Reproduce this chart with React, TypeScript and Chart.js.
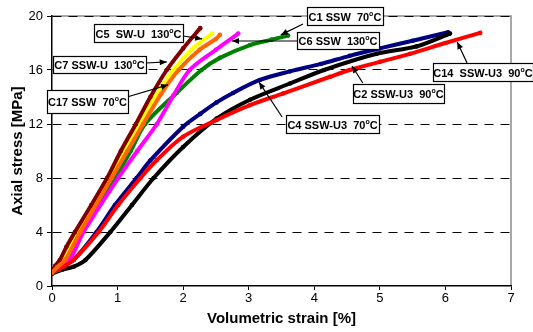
import React, { useEffect, useRef } from 'react';
import { Chart, registerables } from 'chart.js';

Chart.register(...registerables);

// ---- Data (volumetric strain [%] vs axial stress [MPa]) ----
const xTickValues = [0, 1, 2, 3, 4, 5, 6, 7];
const yTickValues = [0, 4, 8, 12, 16, 20];

// C7 SSW-U 130°C (maroon)
const c7Strain = [0, 0.05, 0.12, 0.22, 0.35, 0.6, 0.84, 1.05, 1.28, 1.5, 1.75, 2.0, 2.26];
const c7Stress = [1.0, 1.5, 1.93, 2.9, 4.0, 6.0, 8.0, 10.0, 12.0, 14.0, 16.0, 17.6, 19.1];

// C5 SW-U 130°C (yellow)
const c5Strain = [0, 0.08, 0.18, 0.4, 0.88, 1.1, 1.32, 1.6, 1.85, 2.15, 2.44];
const c5Stress = [1.0, 1.5, 2.0, 4.0, 8.0, 10.0, 12.0, 14.2, 16.0, 17.6, 18.7];

// C17 SSW 70°C (orange)
const c17Strain = [0, 0.08, 0.2, 0.43, 0.91, 1.15, 1.39, 1.66, 1.93, 2.25, 2.5, 2.56];
const c17Stress = [1.0, 1.4, 1.93, 4.0, 8.0, 10.0, 12.0, 14.2, 16.0, 17.5, 18.3, 18.6];

// C6 SSW 130°C (magenta)
const c6Strain = [0, 0.1, 0.27, 0.48, 1.01, 1.3, 1.6, 1.85, 2.1, 2.5, 2.84];
const c6Stress = [1.0, 1.3, 1.93, 4.0, 8.0, 10.0, 12.0, 14.1, 16.0, 17.5, 18.7];

// C1 SSW 70°C (green)
const c1Strain = [0, 0.1, 0.25, 0.45, 0.96, 1.2, 1.42, 1.9, 2.28, 2.56, 3.02, 3.35, 3.6];
const c1Stress = [1.0, 1.2, 1.9, 4.0, 8.0, 10.0, 12.0, 14.3, 16.0, 16.9, 17.85, 18.25, 18.55];

// C4 SSW-U3 70°C (navy)
const c4Strain = [0, 0.15, 0.33, 0.68, 0.96, 1.29, 1.5, 2.0, 2.26, 2.51, 2.76, 3.17, 3.63, 4.1, 4.54, 5.0, 5.5, 6.04];
const c4Stress = [1.0, 1.4, 1.93, 4.0, 6.0, 8.0, 9.3, 11.8, 12.75, 13.6, 14.3, 15.26, 15.9, 16.45, 17.05, 17.6, 18.17, 18.8];

// C2 SSW-U3 90°C (black)
const c2Strain = [0, 0.15, 0.33, 0.51, 0.89, 1.22, 1.55, 2.0, 2.51, 3.02, 3.63, 4.15, 4.95, 5.56, 6.07];
const c2Stress = [0.9, 1.2, 1.43, 1.93, 4.0, 6.0, 8.0, 10.3, 12.4, 13.8, 15.0, 16.0, 17.2, 17.75, 18.7];

// C14 SSW-U3 90°C (red)
const c14Strain = [0, 0.17, 0.33, 0.71, 1.01, 1.35, 1.6, 2.0, 2.51, 3.02, 3.53, 4.24, 4.54, 5.0, 5.46, 6.0, 6.53];
const c14Stress = [1.0, 1.43, 1.93, 4.0, 6.0, 8.0, 9.33, 11.06, 12.3, 13.4, 14.27, 15.5, 16.0, 16.6, 17.2, 18.0, 18.75];

// ---- Callout labels (anchored in data coordinates) ----
type Note = { text: string; cx: number; cy: number; w: number; h: number; tail: [number, number]; head: [number, number] };
const notes: Note[] = [
  { text: 'C5  SW-U  130', cx: 1.32, cy: 18.74, w: 89, h: 18, tail: [2.0, 18.52], head: [2.29, 18.3] },
  { text: 'C7 SSW-U  130', cx: 0.724, cy: 16.44, w: 93, h: 17, tail: [1.434, 16.52], head: [1.75, 16.6] },
  { text: 'C17 SSW  70', cx: 0.541, cy: 13.67, w: 81, h: 23, tail: [1.144, 14.0], head: [1.77, 14.9] },
  { text: 'C1 SSW  70', cx: 4.468, cy: 20.0, w: 76, h: 18, tail: [3.828, 19.41], head: [3.49, 18.6] },
  { text: 'C6 SSW  130', cx: 4.362, cy: 18.19, w: 82, h: 17, tail: [3.736, 18.15], head: [2.745, 18.15] },
  { text: 'C14  SSW-U3  90', cx: 6.573, cy: 15.85, w: 100, h: 18, tail: [6.33, 16.52], head: [6.18, 18.07] },
  { text: 'C2 SSW-U3  90', cx: 5.284, cy: 14.26, w: 91, h: 19, tail: [4.74, 15.04], head: [4.575, 16.3] },
  { text: 'C4 SSW-U3  70', cx: 4.278, cy: 12.0, w: 93, h: 18, tail: [3.51, 12.52], head: [3.157, 15.1] },
];

const FONT = '"Liberation Sans", Arial, Helvetica, sans-serif';

const toPts = (xs: number[], ys: number[]) => xs.map((x, i) => ({ x, y: ys[i] }));

function drawArrow(ctx: CanvasRenderingContext2D, x1: number, y1: number, x2: number, y2: number) {
  ctx.beginPath();
  ctx.moveTo(x1, y1);
  ctx.lineTo(x2, y2);
  ctx.stroke();
  const a = Math.atan2(y2 - y1, x2 - x1);
  const L = 7, W = 3;
  ctx.beginPath();
  ctx.moveTo(x2, y2);
  ctx.lineTo(x2 - L * Math.cos(a) + W * Math.sin(a), y2 - L * Math.sin(a) - W * Math.cos(a));
  ctx.lineTo(x2 - L * Math.cos(a) - W * Math.sin(a), y2 - L * Math.sin(a) + W * Math.cos(a));
  ctx.closePath();
  ctx.fill();
}

const decorPlugin = {
  id: 'decor',
  beforeDraw(chart: any) {
    const { ctx, chartArea: a } = chart;
    ctx.save();
    ctx.strokeStyle = '#8c8c8c';
    ctx.lineWidth = 1.5;
    ctx.beginPath();
    ctx.moveTo(a.left, a.top);
    ctx.lineTo(a.right, a.top);
    ctx.lineTo(a.right, a.bottom);
    ctx.stroke();
    ctx.restore();
  },
  afterDraw(chart: any) {
    const { ctx } = chart;
    const xs = chart.scales.x;
    const ys = chart.scales.y;
    ctx.save();
    ctx.strokeStyle = '#000';
    ctx.fillStyle = '#000';
    ctx.lineWidth = 1.2;
    for (const n of notes) {
      drawArrow(ctx, xs.getPixelForValue(n.tail[0]), ys.getPixelForValue(n.tail[1]),
        xs.getPixelForValue(n.head[0]), ys.getPixelForValue(n.head[1]));
    }
    for (const n of notes) {
      const cx = xs.getPixelForValue(n.cx);
      const cy = ys.getPixelForValue(n.cy);
      const left = Math.round(cx - n.w / 2) + 0.5;
      const top = Math.round(cy - n.h / 2) + 0.5;
      ctx.fillStyle = '#fff';
      ctx.fillRect(left, top, n.w, n.h);
      ctx.strokeStyle = '#000';
      ctx.lineWidth = 1.2;
      ctx.strokeRect(left, top, n.w, n.h);
      ctx.fillStyle = '#000';
      const main = 'bold 11px ' + FONT;
      const sup = 'bold 7px ' + FONT;
      ctx.font = main;
      const w1 = ctx.measureText(n.text).width;
      const wC = ctx.measureText('C').width;
      ctx.font = sup;
      const wo = ctx.measureText('o').width;
      const total = w1 + wo + wC;
      let x = cx - total / 2;
      const base = cy + 5;
      ctx.textBaseline = 'alphabetic';
      ctx.textAlign = 'left';
      ctx.font = main;
      ctx.fillText(n.text, x, base);
      x += w1;
      ctx.font = sup;
      ctx.fillText('o', x, base - 5);
      x += wo;
      ctx.font = main;
      ctx.fillText('C', x, base);
    }
    ctx.restore();
  },
};

const series = [
  { label: 'C17 SSW 70°C', xs: c17Strain, ys: c17Stress, color: '#FF6600' },
  { label: 'C14 SSW-U3 90°C', xs: c14Strain, ys: c14Stress, color: '#FF0000' },
  { label: 'C7 SSW-U 130°C', xs: c7Strain, ys: c7Stress, color: '#800000' },
  { label: 'C5 SW-U 130°C', xs: c5Strain, ys: c5Stress, color: '#FFFF00' },
  { label: 'C6 SSW 130°C', xs: c6Strain, ys: c6Stress, color: '#FF00FF' },
  { label: 'C1 SSW 70°C', xs: c1Strain, ys: c1Stress, color: '#008000' },
  { label: 'C2 SSW-U3 90°C', xs: c2Strain, ys: c2Stress, color: '#000000' },
  { label: 'C4 SSW-U3 70°C', xs: c4Strain, ys: c4Stress, color: '#000080' },
];

export default function App() {
  const ref = useRef<HTMLCanvasElement | null>(null);
  useEffect(() => {
    if (!ref.current) return;
    Chart.defaults.font.family = FONT;
    const chart = new Chart(ref.current, {
      type: 'scatter',
      data: {
        datasets: series.map((s) => ({
          label: s.label,
          data: toPts(s.xs, s.ys),
          showLine: true,
          borderColor: s.color,
          backgroundColor: s.color,
          borderWidth: 4,
          pointRadius: 2.3,
          pointBorderWidth: 0,
          tension: 0.3,
          borderCapStyle: 'round' as const,
          borderJoinStyle: 'round' as const,
        })),
      },
      options: {
        responsive: false,
        animation: false,
        layout: { padding: { left: 0, right: 22, top: 16, bottom: 0 } },
        plugins: { legend: { display: false }, tooltip: { enabled: false } },
        scales: {
          x: {
            type: 'linear',
            min: 0,
            max: 7,
            afterBuildTicks: (s: any) => { s.ticks = xTickValues.map((v) => ({ value: v })); },
            afterFit: (s: any) => { s.height = 46; },
            ticks: { font: { size: 13 }, color: '#000', padding: 1 },
            grid: { drawOnChartArea: false, drawTicks: true, tickLength: 4, tickColor: '#000' },
            border: { display: true, color: '#000', width: 1.5 },
            title: {
              display: true,
              text: 'Volumetric strain [%]',
              font: { size: 15, weight: 'bold' },
              color: '#000',
              padding: { top: 0, bottom: 4.5 },
            },
          },
          y: {
            type: 'linear',
            min: 0,
            max: 20,
            afterBuildTicks: (s: any) => { s.ticks = yTickValues.map((v) => ({ value: v })); },
            afterFit: (s: any) => { s.width = 52; },
            ticks: { font: { size: 13 }, color: '#000', padding: 4 },
            grid: {
              color: (c: any) => (c.tick && c.tick.value === 0 ? 'rgba(0,0,0,0)' : '#000'),
              lineWidth: 1,
              drawTicks: true,
              tickLength: 5,
              tickColor: '#000',
              tickBorderDash: [],
            },
            border: { display: true, color: '#000', width: 1.5, dash: [9, 7] },
            title: {
              display: true,
              text: 'Axial stress [MPa]',
              font: { size: 15, weight: 'bold' },
              color: '#000',
              padding: { top: 9, bottom: 0 },
            },
          },
        },
      },
      plugins: [decorPlugin],
    });
    return () => chart.destroy();
  }, []);
  return (
    <div style={{ position: 'absolute', left: 0, top: 0, width: 533, height: 332 }}>
      <canvas ref={ref} width={533} height={332} />
    </div>
  );
}
